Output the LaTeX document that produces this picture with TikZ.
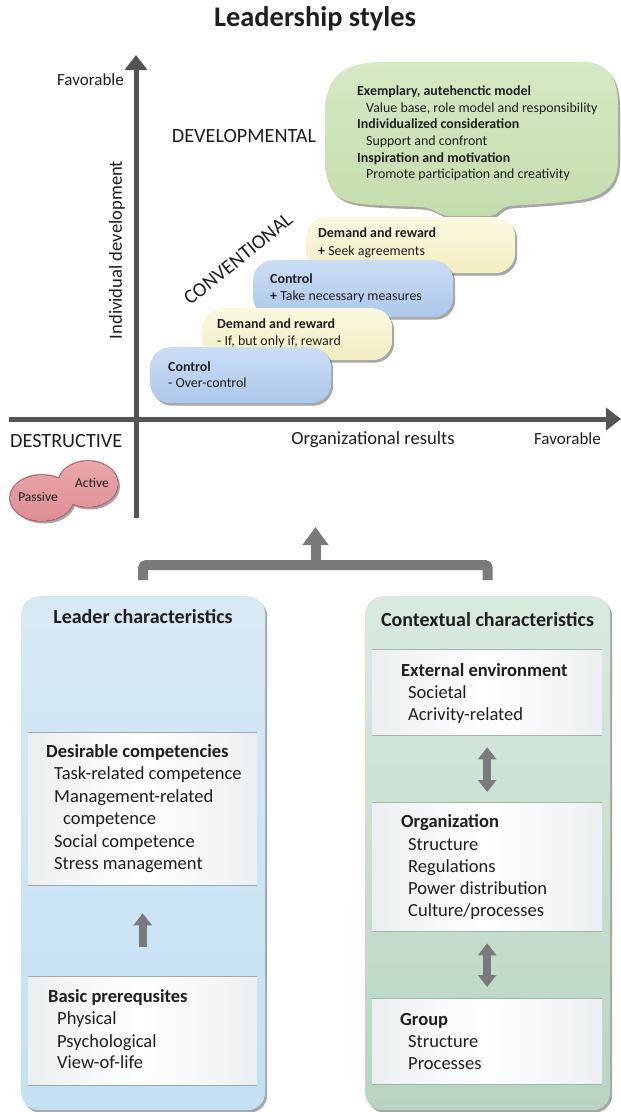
\documentclass[tikz,border=0pt]{standalone}
\usepackage{fontspec}
\setmainfont{Carlito}
\usetikzlibrary{arrows.meta,shadows}
\definecolor{axisgray}{HTML}{545454}
\definecolor{arrgray}{HTML}{7A7A7C}
\definecolor{blueT}{HTML}{CADDF4}
\definecolor{blueB}{HTML}{ADC8EC}
\definecolor{yelT}{HTML}{FBF9E0}
\definecolor{yelB}{HTML}{F1EEC2}
\definecolor{grnT}{HTML}{D6E9C4}
\definecolor{grnB}{HTML}{C5DDAD}
\definecolor{pinkT}{HTML}{EAA7AA}
\definecolor{pinkB}{HTML}{DC8E93}
\definecolor{pinkline}{HTML}{C07378}
\definecolor{lboxT}{HTML}{D7E9F5}
\definecolor{lboxB}{HTML}{C3E1F3}
\definecolor{cboxT}{HTML}{D9EBDF}
\definecolor{cboxB}{HTML}{B8D4C2}
\definecolor{pside}{HTML}{ECEFF1}
\definecolor{plineB}{HTML}{98A9B4}
\definecolor{plineG}{HTML}{A3B6AA}
\definecolor{txt}{HTML}{1E1E1E}
\begin{document}
\begin{tikzpicture}[x=1pt,y=-1pt,
  every node/.style={text=txt},
  shd/.style={drop shadow={shadow xshift=2pt,shadow yshift=-2.5pt,opacity=0.35,fill=black}},
  blob/.style={shd,rounded corners=20pt,anchor=north west,inner sep=0pt},
  blueblob/.style={blob,top color=blueT,bottom color=blueB},
  yelblob/.style={blob,top color=yelT,bottom color=yelB},
  ltxt/.style={anchor=base west,inner sep=0pt},
  bub/.style={ltxt,font=\fontsize{13.9}{16}\selectfont},
  btxt/.style={ltxt,font=\fontsize{18.5}{22}\selectfont},
  caps/.style={inner sep=0pt,font=\fontsize{20.2}{22}\selectfont},
  axlab/.style={inner sep=0pt,font=\fontsize{18.6}{20}\selectfont},
  axisline/.style={draw=axisgray,line width=5pt,-{Triangle[width=22pt,length=15pt]}},
  bigbox/.style={shd,anchor=north west,inner sep=0pt,rounded corners=18pt,minimum height=514pt},
  panel/.style={anchor=north west,inner sep=0pt,left color=pside,right color=pside,middle color=white},
  uparrow/.style={draw=arrgray,line width=8pt,-{Triangle[width=18pt,length=12pt]}},
  dblarrow/.style={draw=arrgray,line width=8pt,{Triangle[width=18pt,length=12pt]}-{Triangle[width=18pt,length=12pt]}},
  bracketline/.style={draw=arrgray,line width=10pt,rounded corners=3pt},
  stemarrow/.style={draw=arrgray,line width=10pt,-{Triangle[width=25pt,length=18pt]}}
]
\useasboundingbox (0,0) rectangle (621,1112);

% title
\node[anchor=base,inner sep=0pt,font=\bfseries\fontsize{28.4}{32}\selectfont] (title) at (315,26) {Leadership styles};

% axes
\coordinate (ybot) at (136,518);
\coordinate (ytop) at (136,55);
\coordinate (xleft) at (9,419);
\coordinate (xright) at (621,419);
\draw[axisline] (ybot) -- (ytop);
\draw[axisline] (xleft) -- (xright);

\node[anchor=base east,inner sep=0pt,font=\fontsize{17}{20}\selectfont] (favY) at (124,85) {Favorable};
\node[axlab,rotate=90] (indev) at (117,250) {Individual development};
\node[caps] (devel) at (244,136) {DEVELOPMENTAL};
\node[caps,rotate=39] (conv) at (238,259) {CONVENTIONAL};
\node[caps,anchor=west] (destr) at (10,441) {DESTRUCTIVE};
\node[axlab,anchor=base] (orgres) at (373,444) {Organizational results};
\node[anchor=base east,inner sep=0pt,font=\fontsize{17}{20}\selectfont] (favX) at (601,444) {Favorable};

% green speech bubble
\path[shd,top color=grnT,bottom color=grnB]
  (448,216) .. controls (440,216) and (436,208) .. (420,207)
  .. controls (400,206) and (380,206) .. (362,204)
  .. controls (335,201) and (326,190) .. (325,160)
  -- (325,110)
  .. controls (326,75) and (345,63) .. (380,62)
  -- (583,62) .. controls (608,62) and (618,78) .. (618,105)
  -- (618,160) .. controls (618,185) and (605,196) .. (580,200)
  .. controls (550,204) and (520,205) .. (510,206)
  .. controls (500,207) and (497,216) .. (490,216) -- cycle;
\foreach \x/\y/\t [count=\i] in {
  357/95/{\textbf{Exemplary, autehenctic model}},
  366/112/{Value base, role model and responsibility},
  357/128/{\textbf{Individualized consideration}},
  366/145/{Support and confront},
  357/162/{\textbf{Inspiration and motivation}},
  366/178/{Promote participation and creativity}}
  \node[bub] (bub\i) at (\x,\y) {\t};

% conventional blobs (lower ones on top)
\node[yelblob,minimum width=209pt,minimum height=56pt] (dr2) at (306,217) {};
\node[blueblob,minimum width=200pt,minimum height=57pt] (ct2) at (253,260) {};
\node[yelblob,minimum width=190pt,minimum height=52pt] (dr1) at (202,308) {};
\node[blueblob,minimum width=181pt,minimum height=56pt] (ct1) at (150,347) {};
\foreach \x/\y/\t [count=\i] in {
  318/237/{\textbf{Demand and reward}},
  318/255/{\textbf{+} Seek agreements},
  270/283/{\textbf{Control}},
  270/300/{\textbf{+} Take necessary measures},
  217/328/{\textbf{Demand and reward}},
  217/345/{- If, but only if, reward},
  168/371/{\textbf{Control}},
  168/387/{- Over-control}}
  \node[bub] (bl\i) at (\x,\y) {\t};

% destructive blobs
\path[shd,draw=pinkline,line width=2pt] (42,498) ellipse [x radius=32, y radius=23]
  (88,484) ellipse [x radius=30, y radius=23];
\fill[top color=pinkT,bottom color=pinkB] (42,498) ellipse [x radius=32, y radius=23]
  (88,484) ellipse [x radius=30, y radius=23];
\node[inner sep=0pt,font=\fontsize{13.5}{16}\selectfont] (passive) at (38,497) {Passive};
\node[inner sep=0pt,font=\fontsize{13.5}{16}\selectfont] (active) at (92,483) {Active};

% bottom boxes
\node[bigbox,minimum width=244pt,top color=lboxT,bottom color=lboxB] (leader) at (21,596) {};
\node[bigbox,minimum width=245pt,top color=cboxT,bottom color=cboxB] (ctx) at (365,596) {};

% bracket + arrow to the styles
\draw[bracketline] ([yshift=16pt]leader.north) -- ++(0,-15) -| ([yshift=16pt]ctx.north);
\coordinate (bmid) at (315.5,565);
\coordinate (styletip) at (315.5,527);
\draw[stemarrow] (bmid) -- (styletip);

\node[anchor=base,inner sep=0pt,font=\bfseries\fontsize{20}{24}\selectfont] (lct) at (143,623) {Leader characteristics};
\node[anchor=base,inner sep=0pt,font=\bfseries\fontsize{20}{24}\selectfont] (cct) at (487.5,626) {Contextual characteristics};

% panels
\node[panel,minimum width=229pt,minimum height=153pt] (desire) at (28,732) {};
\node[panel,minimum width=229pt,minimum height=109pt] (basic) at (28,976) {};
\node[panel,minimum width=230pt,minimum height=86pt] (ext) at (372,649) {};
\node[panel,minimum width=230pt,minimum height=129pt] (org) at (372,802) {};
\node[panel,minimum width=230pt,minimum height=86pt] (grp) at (372,998) {};
\foreach \p in {desire,basic}{
  \draw[plineB,line width=1pt] (\p.north west) -- (\p.north east);
  \draw[plineB,line width=1pt] (\p.south west) -- (\p.south east);}
\foreach \p in {ext,org,grp}{
  \draw[plineG,line width=1pt] (\p.north west) -- (\p.north east);
  \draw[plineG,line width=1pt] (\p.south west) -- (\p.south east);}

\draw[uparrow] ([yshift=29pt]basic.north) -- ([yshift=-28pt]desire.south);
\draw[dblarrow] ([yshift=-12pt]ext.south) -- ([yshift=10pt]org.north);
\draw[dblarrow] ([yshift=-12pt]org.south) -- ([yshift=11pt]grp.north);

\foreach \x/\y/\t [count=\i] in {
  46/757.5/{\textbf{Desirable competencies}},
  54/779.5/{Task-related competence},
  54/802/{Management-related},
  63/824.5/{competence},
  54/847/{Social competence},
  54/869.5/{Stress management},
  48/1002.5/{\textbf{Basic prerequsites}},
  57/1024.5/{Physical},
  57/1047/{Psychological},
  57/1068.5/{View-of-life},
  401/676.5/{\textbf{External environment}},
  408/698.5/{Societal},
  408/720.5/{Acrivity-related},
  401/827.5/{\textbf{Organization}},
  408/850.5/{Structure},
  408/872.5/{Regulations},
  408/894.5/{Power distribution},
  408/916.5/{Culture/processes},
  400/1025.5/{\textbf{Group}},
  408/1047.5/{Structure},
  408/1069.5/{Processes}}
  \node[btxt] (bt\i) at (\x,\y) {\t};
\end{tikzpicture}
\end{document}
